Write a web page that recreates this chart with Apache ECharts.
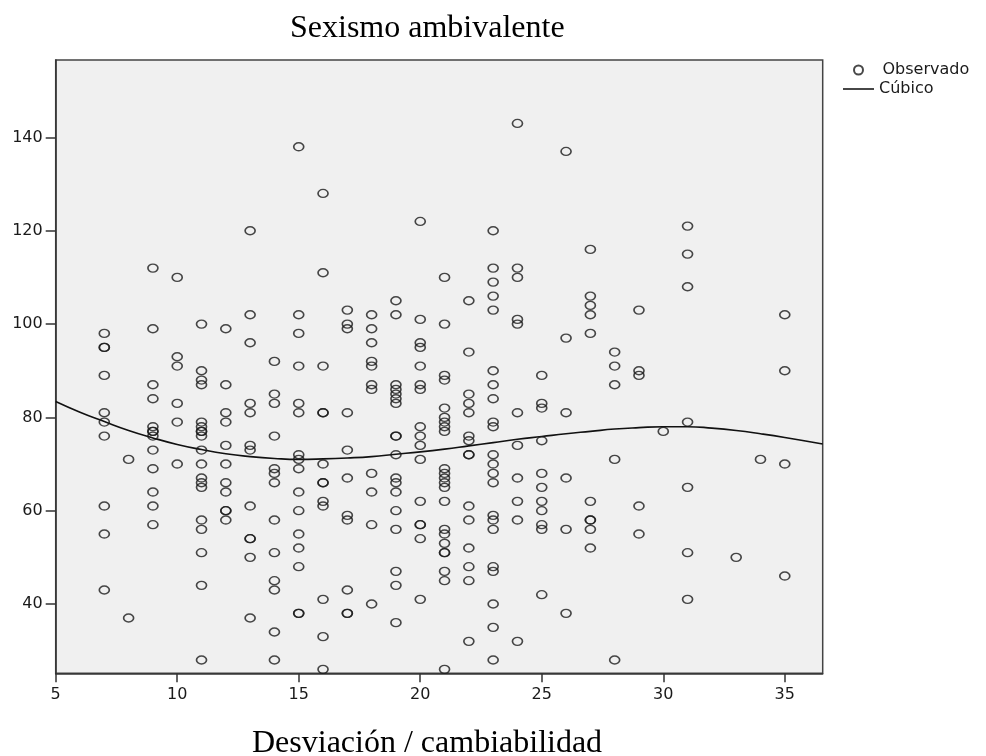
<!DOCTYPE html>
<html>
<head>
<meta charset="utf-8">
<script src="https://cdn.jsdelivr.net/npm/echarts@6/dist/echarts.min.js"></script>
<style>
  html, body { margin: 0; padding: 0; background: #ffffff; }
  #chart { width: 986px; height: 756px; }
</style>
</head>
<body>
<div id="chart"></div>
<script>
// Observed points: one x value per column, and the y values read in that column
const columnX = [7, 8, 9, 10, 11, 12, 13, 14, 15, 16, 17, 18, 19, 20, 21, 22, 23, 24, 25, 26, 27, 28, 29, 30, 31, 33, 34, 35];
const columnY = [
  [98, 95, 95, 89, 81, 79, 76, 61, 55, 43],
  [71, 37],
  [112, 99, 87, 84, 78, 77, 77, 76, 73, 69, 64, 61, 57],
  [110, 93, 91, 83, 79, 70],
  [100, 90, 88, 87, 79, 78, 77, 77, 76, 73, 70, 67, 66, 65, 58, 56, 51, 44, 28],
  [99, 87, 81, 79, 74, 70, 66, 64, 60, 60, 58],
  [120, 102, 96, 83, 81, 74, 73, 61, 54, 54, 50, 37],
  [92, 85, 83, 76, 69, 68, 66, 58, 51, 45, 43, 34, 28],
  [138, 102, 98, 91, 83, 81, 72, 71, 69, 64, 60, 55, 52, 48, 38, 38],
  [128, 111, 91, 81, 81, 70, 66, 66, 62, 61, 41, 33, 26],
  [103, 100, 99, 81, 73, 67, 59, 58, 43, 38, 38],
  [102, 99, 96, 92, 91, 87, 86, 68, 64, 57, 40],
  [105, 102, 87, 86, 85, 84, 83, 76, 76, 72, 67, 66, 64, 60, 56, 47, 44, 36],
  [122, 101, 96, 95, 91, 87, 86, 78, 76, 74, 71, 62, 57, 57, 54, 41],
  [110, 100, 89, 88, 82, 80, 79, 78, 77, 69, 68, 67, 66, 65, 62, 56, 55, 53, 51, 51, 47, 45, 26],
  [105, 94, 85, 83, 81, 76, 75, 72, 72, 61, 58, 52, 48, 45, 32],
  [120, 112, 109, 106, 103, 90, 87, 84, 79, 78, 72, 70, 68, 66, 59, 58, 56, 48, 47, 40, 35, 28],
  [143, 112, 110, 101, 100, 81, 74, 67, 62, 58, 32],
  [89, 83, 82, 75, 68, 65, 62, 60, 57, 56, 42],
  [137, 97, 81, 67, 56, 38],
  [116, 106, 104, 102, 98, 62, 58, 58, 56, 52],
  [94, 91, 87, 71, 28],
  [103, 90, 89, 61, 55],
  [77],
  [121, 115, 108, 79, 65, 51, 41],
  [50],
  [71],
  [102, 90, 70, 46]
];

// Cubic fit curve
const curveX = [5, 6, 7, 8, 9, 10, 11, 12, 13, 14, 15, 16, 17, 18, 19, 20, 21, 22, 23, 24, 25, 26, 27, 28, 29, 30, 31, 32, 33, 34, 35, 36.56];
const curveY = [83.4, 81.1, 79.1, 77.2, 75.6, 74.2, 73.1, 72.2, 71.6, 71.2, 71.0, 71.1, 71.3, 71.6, 72.1, 72.6, 73.2, 73.9, 74.6, 75.3, 75.9, 76.5, 77.0, 77.5, 77.8, 78.0, 78.0, 77.7, 77.2, 76.5, 75.7, 74.3];

// Tick labels
const xTickValues = [5, 10, 15, 20, 25, 30, 35];
const yTickValues = [40, 60, 80, 100, 120, 140];

// Texts
const chartTitle = 'Sexismo ambivalente';
const xTitle = 'Desviación / cambiabilidad';
const seriesNames = ['Observado', 'Cúbico'];

const observed = [];
columnX.forEach((x, i) => columnY[i].forEach(y => observed.push([x, y])));
const curve = curveX.map((x, i) => [x, curveY[i]]);

const axisFont = { fontFamily: 'DejaVu Sans', fontSize: 16, color: '#1a1a1a' };

const chart = echarts.init(document.getElementById('chart'), null, { renderer: 'canvas' });
chart.setOption({
  animation: false,
  backgroundColor: '#ffffff',
  title: [
    {
      text: chartTitle, left: 285, top: 8,
      textStyle: { fontFamily: 'Liberation Serif', fontSize: 32, fontWeight: 'normal', color: '#000' }
    },
    {
      text: xTitle, left: 247, top: 723,
      textStyle: { fontFamily: 'Liberation Serif', fontSize: 32, fontWeight: 'normal', color: '#000' }
    }
  ],
  legend: [
    {
      data: [{ name: seriesNames[0], icon: 'circle' }],
      left: 853, top: 62, itemWidth: 10, itemHeight: 9, padding: 0,
      textStyle: { fontFamily: 'DejaVu Sans', fontSize: 16, color: '#1a1a1a', padding: [0, 0, 0, 14] }
    },
    {
      data: [{ name: seriesNames[1], icon: 'path://M0,0H30V1.5H0Z' }],
      left: 843, top: 81, itemWidth: 31, itemHeight: 1.6, padding: 0,
      textStyle: { fontFamily: 'DejaVu Sans', fontSize: 16, color: '#1a1a1a' }
    }
  ],
  grid: {
    left: 55.7, right: 163.3, top: 60, bottom: 82.7,
    show: true, backgroundColor: '#f0f0f0', borderColor: '#444', borderWidth: 1.5,
    containLabel: false
  },
  xAxis: {
    type: 'value', min: 5, max: 36.56,
    axisLine: { show: true, onZero: false, lineStyle: { color: '#333', width: 1.5 } },
    axisTick: { show: true, length: 9, customValues: xTickValues, lineStyle: { color: '#333', width: 1.5 } },
    axisLabel: Object.assign({ customValues: xTickValues, margin: 14 }, axisFont),
    splitLine: { show: false }
  },
  yAxis: {
    type: 'value', min: 25.15, max: 156.6,
    axisLine: { show: true, onZero: false, lineStyle: { color: '#333', width: 1.5 } },
    axisTick: { show: true, length: 10, customValues: yTickValues, lineStyle: { color: '#333', width: 1.5 } },
    axisLabel: Object.assign({ customValues: yTickValues, margin: 13 }, axisFont),
    splitLine: { show: false }
  },
  series: [
    {
      name: seriesNames[0], type: 'scatter', data: observed,
      symbol: 'circle', symbolSize: [10, 8],
      itemStyle: { color: 'rgba(0,0,0,0)', borderColor: '#1a1a1a', borderWidth: 1.5 },
      z: 3
    },
    {
      name: seriesNames[1], type: 'line', data: curve, smooth: true, symbol: 'none',
      lineStyle: { color: '#111', width: 1.6 },
      itemStyle: { color: '#111' },
      z: 2
    }
  ]
});
</script>
</body>
</html>
